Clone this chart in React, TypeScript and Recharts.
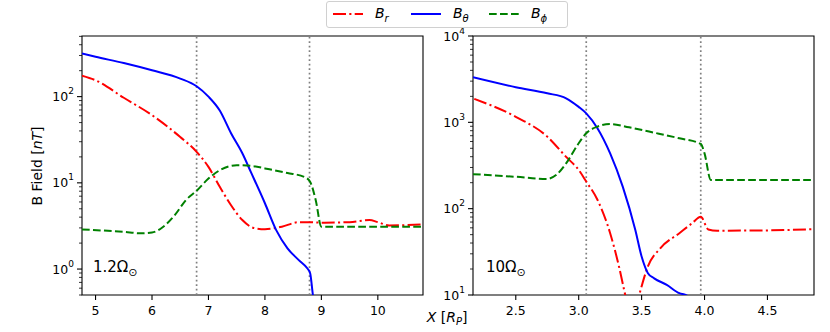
import React from 'react';
import { LineChart, Line, XAxis, YAxis, ReferenceLine, ReferenceArea } from 'recharts';

const FONT = '"DejaVu Sans", sans-serif';

// left panel (1.2 Omega_sun)
const leftThetaX = [4.76, 5.0, 5.5, 6.0, 6.5, 6.79, 7.0, 7.2, 7.4, 7.6, 7.75, 8.0, 8.2, 8.4, 8.6, 8.75, 8.8, 8.85, 8.9];
const leftThetaY = [316, 290, 245, 202, 162, 132, 100, 69, 37.6, 22, 13.4, 5.8, 2.83, 1.74, 1.27, 1.02, 0.9, 0.5, 0.3];
const leftRX = [4.76, 5.0, 5.5, 6.0, 6.5, 6.79, 7.0, 7.2, 7.4, 7.6, 7.8, 8.0, 8.3, 8.6, 8.8, 9.0, 9.5, 9.85, 10.0, 10.2, 10.8];
const leftRY = [175, 155, 97, 61, 34, 22.9, 15.3, 9, 5.5, 3.7, 3.0, 2.9, 3.1, 3.5, 3.5, 3.45, 3.5, 3.7, 3.5, 3.2, 3.3];
const leftPhiX = [4.76, 5.5, 5.8, 6.0, 6.2, 6.4, 6.6, 6.8, 7.0, 7.2, 7.5, 7.8, 8.0, 8.4, 8.7, 8.8, 8.9, 9.0, 9.5, 10.8];
const leftPhiY = [2.88, 2.7, 2.6, 2.65, 3.1, 4.2, 6.3, 8.2, 11.2, 14, 16, 15.6, 14.7, 13, 11.7, 10.3, 6.3, 3.1, 3.1, 3.1];
const leftMarks = [6.79, 8.79];
const leftXTicks = [5, 6, 7, 8, 9, 10];
const leftYMajor = [1, 10, 100];
const leftYTicks = [0.5, 0.6, 0.7, 0.8, 0.9, 1, 2, 3, 4, 5, 6, 7, 8, 9, 10, 20, 30, 40, 50, 60, 70, 80, 90, 100, 200, 300, 400, 500];

// right panel (10 Omega_sun)
const rightThetaX = [2.16, 2.5, 2.75, 2.9, 3.0, 3.06, 3.15, 3.25, 3.35, 3.45, 3.5, 3.55, 3.6, 3.7, 3.8, 3.85, 3.95];
const rightThetaY = [3320, 2550, 2170, 1900, 1510, 1270, 850, 437, 180, 56.6, 27.9, 17.9, 15.6, 13.1, 10.5, 10, 8];
const rightRX = [2.17, 2.5, 2.75, 2.9, 3.0, 3.06, 3.15, 3.25, 3.32, 3.37, 3.42, 3.48, 3.55, 3.65, 3.8, 3.9, 3.97, 4.03, 4.1, 4.5, 4.87];
const rightRY = [1870, 1160, 683, 398, 281, 206, 126, 52, 21.4, 10, 5, 10, 21.4, 35, 52, 67.6, 80.7, 57.5, 55.6, 56, 58];
const rightPhiX = [2.16, 2.5, 2.75, 2.82, 2.9, 3.0, 3.06, 3.15, 3.25, 3.4, 3.6, 3.8, 3.97, 4.0, 4.05, 4.87];
const rightPhiY = [251, 234, 221, 245, 335, 572, 747, 893, 955, 875, 759, 653, 562, 437, 215, 215];
const rightMarks = [3.06, 3.97];
const rightXTicks = [2.5, 3.0, 3.5, 4.0, 4.5];
const rightYMajor = [10, 100, 1000, 10000];
const rightYTicks = [10, 20, 30, 40, 50, 60, 70, 80, 90, 100, 200, 300, 400, 500, 600, 700, 800, 900, 1000, 2000, 3000, 4000, 5000, 6000, 7000, 8000, 9000, 10000];

const zip = (xs: number[], ys: number[]) => xs.map((x, i) => ({ x, y: ys[i] }));

const RED = '#ff0000';
const BLUE = '#0000ff';
const GREEN = '#008000';
const DASHDOT = '13 3.3 2.1 3.3';
const DASHED = '7.7 3.3';

const makeYTick = (majors: number[]) => (p: any) => {
  const v = p.payload.value;
  const major = majors.some((m) => Math.abs(m - v) < 1e-9);
  const exp = Math.round(Math.log10(v));
  return (
    <g>
      <line x1={p.x} x2={p.x - (major ? 5 : 3)} y1={p.y} y2={p.y} stroke="#000" strokeWidth={major ? 1.1 : 0.8} />
      {major && (
        <text x={p.x - 8} y={p.y + 4.5} textAnchor="end" fontSize={12.5} fontFamily={FONT} fill="#000">
          10<tspan dy={-7} fontSize={9}>{exp}</tspan>
        </text>
      )}
    </g>
  );
};

const makeXTick = (digits: number) => (p: any) => (
  <g>
    <line x1={p.x} x2={p.x} y1={p.y} y2={p.y + 5} stroke="#000" strokeWidth={1.1} />
    <text x={p.x} y={p.y + 20} textAnchor="middle" fontSize={12.5} fontFamily={FONT} fill="#000">
      {p.payload.value.toFixed(digits)}
    </text>
  </g>
);

type PanelProps = {
  width: number;
  margin: { top: number; right: number; bottom: number; left: number };
  yWidth: number;
  xDomain: [number, number];
  yDomain: [number, number];
  xTicks: number[];
  yTicks: number[];
  yMajor: number[];
  digits: number;
  marks: number[];
  r: { x: number; y: number }[];
  theta: { x: number; y: number }[];
  phi: { x: number; y: number }[];
};

function Panel(props: PanelProps) {
  return (
    <LineChart width={props.width} height={332} margin={props.margin}>
      <XAxis
        dataKey="x"
        type="number"
        domain={props.xDomain}
        allowDataOverflow
        ticks={props.xTicks}
        interval={0}
        axisLine={false}
        tickLine={false}
        tickSize={0}
        tickMargin={0}
        height={30}
        tick={makeXTick(props.digits)}
      />
      <YAxis
        dataKey="y"
        type="number"
        scale="log"
        domain={props.yDomain}
        allowDataOverflow
        ticks={props.yTicks}
        interval={0}
        axisLine={false}
        tickLine={false}
        tickSize={0}
        tickMargin={0}
        width={props.yWidth}
        tick={makeYTick(props.yMajor)}
      />
      {props.marks.map((m) => (
        <ReferenceLine key={m} x={m} stroke="#808080" strokeWidth={1.7} strokeDasharray="1.7 2.8" />
      ))}
      <Line data={props.r} dataKey="y" type="monotone" stroke={RED} strokeWidth={2} strokeDasharray={DASHDOT} dot={false} isAnimationActive={false} />
      <Line data={props.theta} dataKey="y" type="monotone" stroke={BLUE} strokeWidth={2} dot={false} isAnimationActive={false} />
      <Line data={props.phi} dataKey="y" type="monotone" stroke={GREEN} strokeWidth={2} strokeDasharray={DASHED} dot={false} isAnimationActive={false} />
      <ReferenceArea
        x1={props.xDomain[0]}
        x2={props.xDomain[1]}
        y1={props.yDomain[0]}
        y2={props.yDomain[1]}
        fill="none"
        fillOpacity={0}
        stroke="#000"
        strokeWidth={1.1}
        ifOverflow="visible"
      />
    </LineChart>
  );
}

const legendItems = [
  { label: 'r', color: RED, dash: DASHDOT },
  { label: 'θ', color: BLUE, dash: undefined },
  { label: 'ϕ', color: GREEN, dash: DASHED },
];

export default function App() {
  return (
    <div style={{ position: 'absolute', left: 0, top: 0, width: 830, height: 332, background: '#fff', fontFamily: FONT }}>
      <div style={{ position: 'absolute', left: 0, top: 0 }}>
        <Panel
          width={430}
          margin={{ top: 36, right: 7, bottom: 7, left: 2 }}
          yWidth={80}
          xDomain={[4.76, 10.8]}
          yDomain={[0.5, 505]}
          xTicks={leftXTicks}
          yTicks={leftYTicks}
          yMajor={leftYMajor}
          digits={0}
          marks={leftMarks}
          r={zip(leftRX, leftRY)}
          theta={zip(leftThetaX, leftThetaY)}
          phi={zip(leftPhiX, leftPhiY)}
        />
      </div>
      <div style={{ position: 'absolute', left: 430, top: 0 }}>
        <Panel
          width={400}
          margin={{ top: 36, right: 16, bottom: 7, left: 3 }}
          yWidth={40}
          xDomain={[2.16, 4.87]}
          yDomain={[10, 10000]}
          xTicks={rightXTicks}
          yTicks={rightYTicks}
          yMajor={rightYMajor}
          digits={1}
          marks={rightMarks}
          r={zip(rightRX, rightRY)}
          theta={zip(rightThetaX, rightThetaY)}
          phi={zip(rightPhiX, rightPhiY)}
        />
      </div>

      {/* legend */}
      <div
        style={{
          position: 'absolute', left: 326, top: 1, width: 242, height: 27, boxSizing: 'border-box',
          border: '1px solid #d0d0d0', borderRadius: 3, background: '#fff',
          display: 'flex', alignItems: 'center', paddingLeft: 6, fontSize: 14,
        }}
      >
        {legendItems.map((it) => (
          <div key={it.label} style={{ display: 'flex', alignItems: 'center', width: 88 }}>
            <svg width={30} height={10}>
              <line x1={0} x2={30} y1={5} y2={5} stroke={it.color} strokeWidth={2} strokeDasharray={it.dash} />
            </svg>
            <span style={{ marginLeft: 12, fontStyle: 'italic' }}>
              B<sub style={{ fontSize: 10 }}>{it.label}</sub>
            </span>
          </div>
        ))}
      </div>

      {/* y label */}
      <div
        style={{
          position: 'absolute', left: 37, top: 166, transform: 'translate(-50%, -50%) rotate(-90deg)',
          whiteSpace: 'nowrap', fontSize: 14,
        }}
      >
        B Field [<i>nT</i>]
      </div>

      {/* x label */}
      <div style={{ position: 'absolute', left: 447, top: 318, transform: 'translate(-50%, -50%)', whiteSpace: 'nowrap', fontSize: 14 }}>
        <i>X</i> [<i>R</i><sub style={{ fontSize: 10, fontStyle: 'italic' }}>P</sub>]
      </div>

      {/* annotations */}
      <div style={{ position: 'absolute', left: 93, top: 258, fontSize: 15, whiteSpace: 'nowrap' }}>
        1.2Ω<sub style={{ fontSize: 11 }}>⊙</sub>
      </div>
      <div style={{ position: 'absolute', left: 486, top: 258, fontSize: 15, whiteSpace: 'nowrap' }}>
        10Ω<sub style={{ fontSize: 11 }}>⊙</sub>
      </div>
    </div>
  );
}
